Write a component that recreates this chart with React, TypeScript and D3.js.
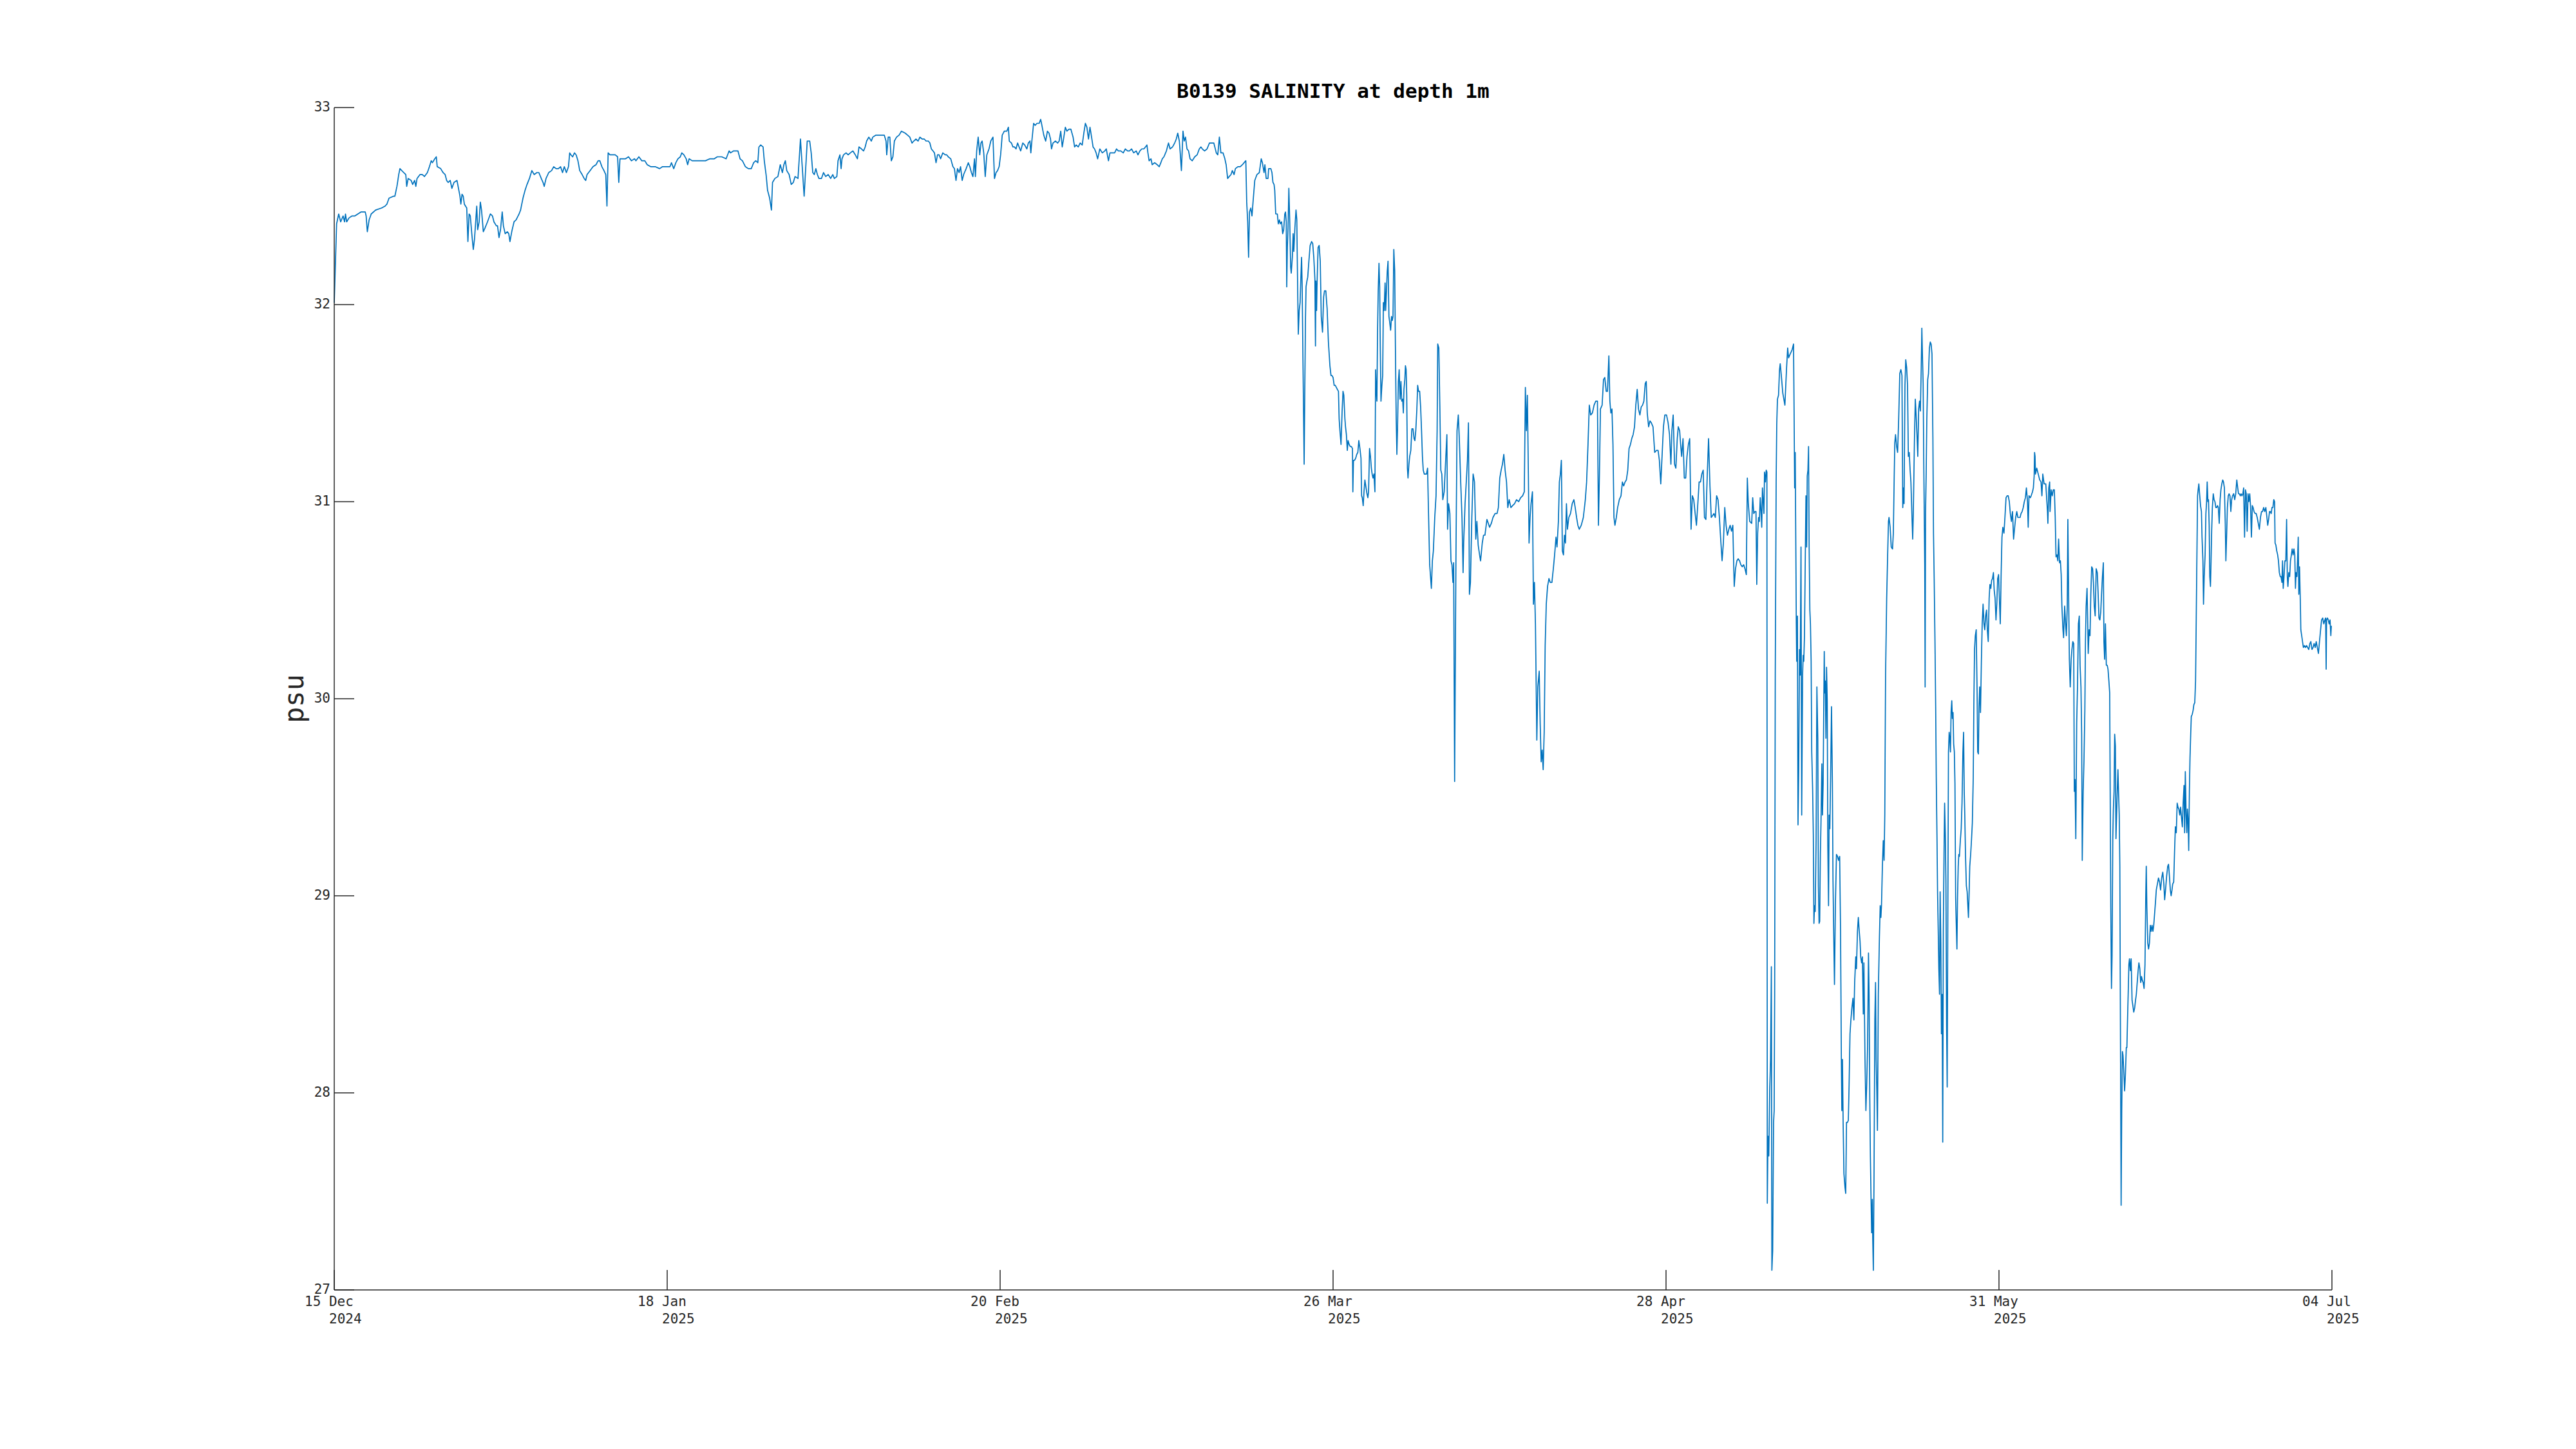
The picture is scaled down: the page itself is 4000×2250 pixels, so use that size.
import * as d3 from "d3";

// time axis runs from 15 Dec 2024 00:00 UTC to 04 Jul 2025 00:00 UTC
const START = Date.UTC(2024, 11, 15);
const END = Date.UTC(2025, 6, 4);
const DAY = 86400000;

// salinity readings: [days since 15 Dec 2024 00:00 UTC, psu]
const salDec = [
  [0.0, 32.01], [0.24, 32.41], [0.45, 32.46], [0.65, 32.42], [0.89, 32.45], [1.04, 32.42], [1.13, 32.46], [1.25, 32.42],
  [1.49, 32.44], [1.79, 32.45], [2.08, 32.45], [2.38, 32.46], [2.68, 32.47], [3.12, 32.47], [3.21, 32.45], [3.33, 32.37],
  [3.51, 32.43], [3.72, 32.46], [4.17, 32.48], [4.76, 32.49], [5.12, 32.5], [5.3, 32.51], [5.51, 32.54], [5.95, 32.55],
  [6.1, 32.55], [6.31, 32.6], [6.49, 32.66], [6.61, 32.69], [6.99, 32.67], [7.2, 32.66], [7.29, 32.6], [7.44, 32.64],
  [7.74, 32.63], [7.89, 32.61], [8.09, 32.63], [8.21, 32.6], [8.33, 32.64], [8.63, 32.66], [8.87, 32.66], [9.08, 32.65],
  [9.37, 32.67], [9.58, 32.7], [9.76, 32.73], [9.88, 32.72], [10.12, 32.74], [10.27, 32.75], [10.36, 32.7], [10.71, 32.69],
  [10.95, 32.67], [11.16, 32.66], [11.31, 32.63], [11.46, 32.62], [11.67, 32.63], [11.84, 32.59], [12.05, 32.62], [12.35, 32.63],
  [12.5, 32.59], [12.65, 32.55], [12.74, 32.51], [12.86, 32.56], [12.98, 32.55], [13.09, 32.51], [13.33, 32.49], [13.45, 32.32],
  [13.57, 32.46], [13.69, 32.45], [13.84, 32.36], [13.99, 32.28], [14.11, 32.33], [14.23, 32.42], [14.34, 32.5], [14.43, 32.38],
  [14.58, 32.42], [14.7, 32.52], [14.82, 32.48], [15.0, 32.37], [15.18, 32.39], [15.42, 32.42], [15.71, 32.46], [15.92, 32.45],
  [16.07, 32.42], [16.31, 32.4], [16.43, 32.4], [16.58, 32.34], [16.73, 32.38], [16.9, 32.47],
];

const salJan = [
  [17.02, 32.4], [17.2, 32.36], [17.41, 32.37], [17.56, 32.36], [17.68, 32.32], [17.86, 32.37], [18.09, 32.42], [18.3, 32.43],
  [18.6, 32.46], [18.75, 32.48], [18.99, 32.54], [19.2, 32.58], [19.4, 32.61], [19.64, 32.64], [19.88, 32.68], [20.12, 32.66],
  [20.39, 32.67], [20.59, 32.67], [20.83, 32.64], [21.01, 32.62], [21.13, 32.6], [21.31, 32.64], [21.58, 32.67], [21.87, 32.68],
  [22.08, 32.7], [22.32, 32.69], [22.56, 32.69], [22.77, 32.7], [22.97, 32.67], [23.15, 32.7], [23.36, 32.67], [23.57, 32.7],
  [23.69, 32.77], [23.81, 32.76], [23.99, 32.75], [24.17, 32.77], [24.34, 32.76], [24.52, 32.73], [24.7, 32.68], [24.94, 32.66],
  [25.15, 32.64], [25.3, 32.63], [25.44, 32.66], [25.74, 32.68], [26.04, 32.7], [26.34, 32.71], [26.55, 32.73], [26.72, 32.73],
  [26.93, 32.7], [27.14, 32.68], [27.32, 32.66], [27.44, 32.5], [27.56, 32.77], [27.74, 32.76], [27.97, 32.76], [28.27, 32.76],
  [28.51, 32.75], [28.63, 32.62], [28.75, 32.74], [29.02, 32.74], [29.31, 32.74], [29.61, 32.75], [29.91, 32.73], [30.21, 32.74],
  [30.36, 32.73], [30.65, 32.75], [30.95, 32.73], [31.25, 32.73], [31.49, 32.71], [31.84, 32.7], [32.29, 32.7], [32.74, 32.69],
  [33.03, 32.7], [33.48, 32.7], [33.78, 32.7], [33.93, 32.72], [34.16, 32.69], [34.37, 32.72], [34.58, 32.74], [34.82, 32.75],
  [34.97, 32.77], [35.18, 32.76], [35.41, 32.74], [35.56, 32.71], [35.71, 32.74], [36.01, 32.73], [36.46, 32.73], [36.9, 32.73],
  [37.35, 32.73], [37.8, 32.74], [38.24, 32.74], [38.54, 32.75], [38.99, 32.75], [39.43, 32.74], [39.58, 32.76], [39.73, 32.78],
  [39.88, 32.77], [40.18, 32.78], [40.62, 32.78], [40.83, 32.74], [41.07, 32.73], [41.37, 32.7], [41.66, 32.69], [41.96, 32.69],
  [42.2, 32.72], [42.41, 32.73], [42.62, 32.72], [42.73, 32.8], [42.91, 32.81], [43.15, 32.8], [43.27, 32.73], [43.45, 32.66],
  [43.6, 32.58], [43.81, 32.54], [43.99, 32.48], [44.1, 32.62], [44.34, 32.64], [44.64, 32.65], [44.88, 32.71], [45.09, 32.67],
  [45.24, 32.71], [45.39, 32.73], [45.53, 32.68], [45.77, 32.66], [45.98, 32.61], [46.19, 32.62], [46.37, 32.65], [46.66, 32.64],
  [46.91, 32.84], [47.28, 32.55], [47.59, 32.83], [47.84, 32.83],
];

const salFeb = [
  [47.99, 32.77], [48.15, 32.67], [48.3, 32.66], [48.46, 32.69], [48.61, 32.66], [48.77, 32.64], [49.02, 32.64], [49.23, 32.67],
  [49.45, 32.65], [49.7, 32.66], [49.95, 32.64], [50.16, 32.66], [50.32, 32.64], [50.57, 32.65], [50.69, 32.73], [50.88, 32.76],
  [51.0, 32.69], [51.09, 32.74], [51.25, 32.76], [51.5, 32.77], [51.71, 32.76], [51.93, 32.77], [52.18, 32.78], [52.43, 32.76],
  [52.64, 32.74], [52.8, 32.8], [53.05, 32.79], [53.26, 32.78], [53.42, 32.8], [53.57, 32.83], [53.79, 32.85], [54.04, 32.83],
  [54.19, 32.85], [54.5, 32.86], [54.81, 32.86], [55.12, 32.86], [55.34, 32.86], [55.52, 32.83], [55.59, 32.76], [55.74, 32.85],
  [55.9, 32.85], [56.05, 32.73], [56.21, 32.75], [56.36, 32.83], [56.58, 32.85], [56.83, 32.86], [57.07, 32.88], [57.45, 32.87],
  [57.69, 32.86], [57.91, 32.85], [58.13, 32.82], [58.31, 32.83], [58.53, 32.84], [58.75, 32.83], [58.93, 32.85], [59.15, 32.84],
  [59.37, 32.84], [59.55, 32.83], [59.77, 32.83], [59.93, 32.82], [60.08, 32.79], [60.24, 32.78], [60.39, 32.77], [60.55, 32.72],
  [60.7, 32.76], [60.86, 32.76], [61.01, 32.74], [61.23, 32.77], [61.47, 32.76], [61.63, 32.76], [61.78, 32.75], [62.03, 32.74],
  [62.25, 32.7], [62.4, 32.69], [62.56, 32.63], [62.71, 32.69], [62.87, 32.67], [63.02, 32.7], [63.18, 32.63], [63.33, 32.66],
  [63.58, 32.69], [63.8, 32.72], [63.95, 32.7], [64.11, 32.67], [64.26, 32.65], [64.42, 32.74], [64.51, 32.65], [64.64, 32.78],
  [64.79, 32.85], [64.95, 32.76], [65.07, 32.82], [65.19, 32.83], [65.35, 32.77], [65.5, 32.65], [65.66, 32.76], [65.88, 32.79],
  [66.06, 32.83], [66.28, 32.85], [66.43, 32.64], [66.59, 32.67], [66.74, 32.68], [66.9, 32.7], [67.05, 32.76], [67.21, 32.86],
  [67.42, 32.88], [67.67, 32.88], [67.83, 32.9], [67.92, 32.83], [68.14, 32.82], [68.29, 32.8], [68.45, 32.8], [68.6, 32.79],
  [68.76, 32.82], [68.91, 32.8], [69.07, 32.78], [69.28, 32.82], [69.47, 32.81], [69.69, 32.79], [69.84, 32.82], [70.0, 32.83],
  [70.09, 32.77], [70.21, 32.84], [70.37, 32.92], [70.52, 32.91], [70.71, 32.92], [70.93, 32.92], [71.08, 32.94], [71.24, 32.9],
  [71.39, 32.86], [71.58, 32.83], [71.76, 32.88], [71.92, 32.87], [72.07, 32.84], [72.17, 32.79], [72.32, 32.82], [72.57, 32.83],
  [72.79, 32.82], [72.94, 32.83], [73.1, 32.88], [73.25, 32.8], [73.41, 32.85], [73.56, 32.9], [73.72, 32.88], [73.93, 32.89],
  [74.12, 32.89], [74.34, 32.85], [74.49, 32.8], [74.65, 32.81], [74.86, 32.8], [75.05, 32.82], [75.26, 32.81], [75.42, 32.87],
  [75.58, 32.92], [75.73, 32.9], [75.89, 32.84],
];

const salMar = [
  [76.04, 32.9], [76.2, 32.85], [76.35, 32.8], [76.5, 32.79], [76.66, 32.77], [76.81, 32.74], [77.03, 32.79], [77.28, 32.77],
  [77.53, 32.78], [77.68, 32.79], [77.9, 32.73], [78.05, 32.77], [78.27, 32.77], [78.52, 32.77], [78.71, 32.79], [78.89, 32.78],
  [79.14, 32.78], [79.39, 32.77], [79.6, 32.79], [79.82, 32.78], [80.01, 32.78], [80.22, 32.79], [80.44, 32.77], [80.69, 32.78],
  [80.87, 32.76], [81.06, 32.78], [81.25, 32.79], [81.46, 32.79], [81.62, 32.8], [81.77, 32.81], [81.87, 32.77], [81.99, 32.73],
  [82.18, 32.74], [82.3, 32.71], [82.55, 32.72], [82.8, 32.71], [83.01, 32.7], [83.17, 32.72], [83.32, 32.74], [83.48, 32.75],
  [83.73, 32.78], [83.94, 32.82], [84.1, 32.79], [84.35, 32.8], [84.56, 32.82], [84.72, 32.84], [84.87, 32.87], [85.03, 32.83],
  [85.12, 32.77], [85.24, 32.68], [85.4, 32.88], [85.52, 32.83], [85.65, 32.85], [85.8, 32.79], [85.96, 32.78], [86.11, 32.74],
  [86.33, 32.73], [86.58, 32.75], [86.82, 32.76], [87.04, 32.79], [87.2, 32.8], [87.35, 32.79], [87.57, 32.78], [87.82, 32.79],
  [88.06, 32.82], [88.28, 32.82], [88.5, 32.82], [88.75, 32.77], [88.9, 32.76], [89.06, 32.85], [89.21, 32.77], [89.43, 32.77],
  [89.61, 32.74], [89.74, 32.71], [89.89, 32.64], [90.05, 32.65], [90.23, 32.66], [90.36, 32.68], [90.54, 32.66], [90.67, 32.69],
  [90.92, 32.7], [91.16, 32.7], [91.38, 32.71], [91.54, 32.72], [91.72, 32.73], [91.81, 32.52], [91.91, 32.42], [92.0, 32.24],
  [92.09, 32.47], [92.22, 32.49], [92.34, 32.45], [92.46, 32.53], [92.62, 32.63], [92.84, 32.66], [93.08, 32.67], [93.27, 32.74],
  [93.39, 32.72], [93.55, 32.67], [93.64, 32.71], [93.77, 32.64], [93.95, 32.64], [94.02, 32.69], [94.24, 32.69], [94.35, 32.67],
  [94.45, 32.62], [94.56, 32.61], [94.63, 32.58], [94.73, 32.46], [94.89, 32.46], [94.99, 32.41], [95.1, 32.43], [95.19, 32.41],
  [95.32, 32.42], [95.43, 32.36], [95.53, 32.38], [95.64, 32.46], [95.71, 32.47], [95.79, 32.42], [95.84, 32.09], [95.9, 32.29],
  [95.97, 32.39], [96.05, 32.59], [96.14, 32.42], [96.23, 32.19], [96.29, 32.16], [96.4, 32.24], [96.48, 32.36], [96.55, 32.27],
  [96.66, 32.39], [96.77, 32.48], [96.85, 32.43], [96.94, 32.07], [97.0, 31.85], [97.09, 31.97], [97.18, 32.01], [97.26, 32.14],
  [97.33, 32.24], [97.39, 32.09], [97.48, 31.67], [97.59, 31.19], [97.65, 31.54], [97.72, 31.92], [97.78, 32.09], [97.87, 32.12],
  [97.95, 32.14], [98.08, 32.23], [98.19, 32.3], [98.34, 32.32], [98.45, 32.31], [98.56, 32.24], [98.67, 32.13], [98.73, 31.79],
  [98.77, 32.12], [98.84, 31.97], [98.88, 32.09], [98.99, 32.29], [99.1, 32.3], [99.21, 32.22], [99.31, 31.94], [99.44, 31.86],
  [99.55, 32.04], [99.64, 32.07], [99.77, 32.07], [99.9, 31.98], [100.03, 31.81], [100.18, 31.69], [100.29, 31.64], [100.39, 31.64],
  [100.5, 31.63], [100.61, 31.59], [100.72, 31.59], [100.93, 31.57], [101.04, 31.56], [101.11, 31.42], [101.19, 31.36], [101.3, 31.29],
  [101.41, 31.46], [101.5, 31.56], [101.58, 31.54], [101.69, 31.42], [101.75, 31.38], [101.84, 31.34], [101.93, 31.26], [102.01, 31.31],
  [102.12, 31.29], [102.23, 31.28], [102.34, 31.28], [102.45, 31.27], [102.49, 31.05], [102.55, 31.21], [102.66, 31.21], [102.77, 31.22],
  [102.88, 31.24], [102.99, 31.25], [103.09, 31.31], [103.2, 31.27], [103.31, 31.22], [103.37, 31.03], [103.44, 31.02], [103.53, 30.98],
  [103.61, 31.05], [103.7, 31.11], [103.79, 31.08], [103.91, 31.04], [104.0, 31.02], [104.07, 31.05], [104.17, 31.27], [104.26, 31.23],
  [104.35, 31.17], [104.43, 31.14], [104.52, 31.12], [104.61, 31.14], [104.71, 31.05], [104.78, 31.67], [104.84, 31.57], [104.91, 31.51],
  [104.97, 31.84], [105.04, 32.07], [105.12, 32.21], [105.19, 32.09], [105.25, 31.78], [105.32, 31.51], [105.41, 31.59], [105.49, 31.64],
  [105.56, 32.01], [105.64, 31.97], [105.73, 32.11], [105.79, 31.97], [105.88, 32.08], [105.95, 32.17], [106.03, 32.22], [106.12, 31.94],
  [106.2, 31.91], [106.29, 31.87], [106.38, 31.94], [106.46, 31.92], [106.53, 31.94], [106.61, 32.28], [106.7, 32.17], [106.77, 31.79],
  [106.85, 31.42], [106.92, 31.24], [106.98, 31.36],
];

const salApr = [
  [107.07, 31.61], [107.15, 31.67], [107.24, 31.52], [107.33, 31.61], [107.41, 31.51], [107.5, 31.52], [107.57, 31.45], [107.63, 31.57],
  [107.72, 31.62], [107.78, 31.69], [107.85, 31.67], [107.91, 31.54], [107.98, 31.17], [108.04, 31.12], [108.13, 31.19], [108.21, 31.23],
  [108.32, 31.26], [108.43, 31.37], [108.54, 31.37], [108.65, 31.32], [108.73, 31.31], [108.82, 31.36], [108.93, 31.47], [109.01, 31.59],
  [109.1, 31.56], [109.21, 31.56], [109.31, 31.48], [109.4, 31.36], [109.49, 31.23], [109.57, 31.16], [109.68, 31.14], [109.79, 31.14],
  [109.9, 31.14], [110.01, 31.17], [110.09, 30.97], [110.22, 30.68], [110.39, 30.56], [110.49, 30.7], [110.59, 30.75], [110.73, 30.92],
  [110.86, 31.03], [110.97, 31.36], [111.03, 31.8], [111.14, 31.78], [111.24, 31.49], [111.34, 31.16], [111.44, 31.14], [111.54, 31.01],
  [111.68, 31.05], [111.81, 31.19], [111.95, 31.34], [112.02, 30.86], [112.12, 30.99], [112.25, 30.94], [112.36, 30.7], [112.46, 30.68],
  [112.56, 30.59], [112.63, 30.69], [112.73, 29.58], [112.86, 30.7], [112.97, 31.36], [113.1, 31.44], [113.2, 31.32], [113.34, 31.1],
  [113.47, 30.92], [113.58, 30.64], [113.64, 30.79], [113.78, 30.99], [113.88, 31.08], [114.02, 31.21], [114.12, 31.4], [114.22, 30.53],
  [114.32, 30.59], [114.46, 30.92], [114.59, 31.14], [114.73, 31.1], [114.86, 30.81], [114.97, 30.9], [115.1, 30.78], [115.24, 30.73],
  [115.34, 30.7], [115.51, 30.79], [115.64, 30.83], [115.78, 30.83], [115.98, 30.91], [116.12, 30.89], [116.25, 30.87], [116.42, 30.89],
  [116.59, 30.92], [116.8, 30.94], [117.0, 30.94], [117.13, 30.97], [117.27, 31.12], [117.41, 31.16], [117.54, 31.19], [117.68, 31.24],
  [117.81, 31.16], [117.95, 31.1], [118.08, 30.97], [118.22, 31.01], [118.39, 30.97], [118.56, 30.98], [118.76, 30.99], [118.96, 31.01],
  [119.17, 31.0], [119.37, 31.02], [119.57, 31.03], [119.74, 31.05], [119.85, 31.58], [119.95, 31.36], [120.05, 31.54], [120.15, 31.14],
  [120.22, 30.79], [120.32, 30.92], [120.42, 30.99], [120.56, 31.05], [120.66, 30.48], [120.76, 30.59], [120.86, 30.38], [121.0, 29.79],
  [121.1, 30.06], [121.24, 30.14], [121.34, 29.87], [121.44, 29.68], [121.54, 29.74], [121.64, 29.64], [121.74, 29.83], [121.84, 30.27],
  [121.95, 30.48], [122.08, 30.57], [122.22, 30.61], [122.35, 30.59], [122.52, 30.59], [122.66, 30.66], [122.79, 30.73], [122.93, 30.82],
  [123.03, 30.77], [123.17, 30.9], [123.27, 31.1], [123.37, 31.14], [123.47, 31.21], [123.57, 30.75], [123.68, 30.73], [123.78, 30.83],
  [123.88, 30.79], [123.98, 30.99], [124.08, 30.86], [124.22, 30.92], [124.39, 30.94], [124.56, 30.99], [124.73, 31.01], [124.86, 30.97],
  [125.0, 30.92], [125.13, 30.88], [125.27, 30.86], [125.47, 30.88], [125.68, 30.92], [125.88, 31.01], [126.01, 31.1], [126.15, 31.29],
  [126.28, 31.49], [126.42, 31.44], [126.59, 31.45], [126.76, 31.49], [126.93, 31.51], [127.1, 31.51], [127.2, 30.88], [127.3, 31.14],
  [127.4, 31.47], [127.57, 31.49], [127.71, 31.62], [127.84, 31.63], [127.98, 31.56], [128.11, 31.56], [128.25, 31.74], [128.35, 31.51],
  [128.45, 31.45], [128.56, 31.47], [128.66, 31.29], [128.76, 30.92], [128.86, 30.88], [129.0, 30.92], [129.13, 30.97], [129.3, 31.01],
  [129.47, 31.03], [129.61, 31.1], [129.74, 31.08], [129.88, 31.1], [130.01, 31.11], [130.15, 31.16], [130.28, 31.27], [130.42, 31.29],
  [130.55, 31.32], [130.69, 31.34], [130.83, 31.38], [130.96, 31.49], [131.1, 31.57], [131.23, 31.47], [131.37, 31.44], [131.5, 31.48],
  [131.64, 31.49], [131.77, 31.51], [131.91, 31.6], [132.01, 31.61], [132.11, 31.45], [132.25, 31.38], [132.38, 31.41], [132.52, 31.4],
  [132.69, 31.38], [132.86, 31.25], [133.03, 31.26], [133.2, 31.26], [133.33, 31.21], [133.47, 31.09], [133.6, 31.23], [133.74, 31.38],
  [133.88, 31.44], [134.05, 31.44], [134.21, 31.4], [134.35, 31.34], [134.49, 31.19], [134.59, 31.36], [134.72, 31.44], [134.86, 31.19],
  [134.99, 31.17], [135.13, 31.32], [135.23, 31.38], [135.37, 31.36], [135.47, 31.29], [135.57, 31.23], [135.71, 31.32], [135.84, 31.12],
  [135.98, 31.12], [136.11, 31.23], [136.25, 31.29], [136.38, 31.32], [136.52, 30.86], [136.65, 31.03], [136.79, 31.01], [136.93, 30.94],
];

const salMay = [
  [137.06, 30.88], [137.2, 30.99], [137.33, 31.1], [137.47, 31.1], [137.6, 31.14], [137.74, 31.16], [137.87, 30.92], [138.01, 30.91],
  [138.15, 31.14], [138.28, 31.32], [138.42, 31.08], [138.55, 30.92], [138.69, 30.93], [138.82, 30.94], [138.96, 30.92], [139.09, 31.03],
  [139.23, 31.01], [139.37, 30.92], [139.5, 30.81], [139.64, 30.7], [139.77, 30.79], [139.91, 30.97], [140.04, 30.88], [140.18, 30.83],
  [140.32, 30.86], [140.45, 30.88], [140.59, 30.85], [140.72, 30.88], [140.86, 30.57], [140.99, 30.66], [141.13, 30.7], [141.26, 30.71],
  [141.4, 30.7], [141.53, 30.68], [141.67, 30.67], [141.81, 30.68], [141.94, 30.66], [142.08, 30.63], [142.18, 31.12], [142.28, 30.99],
  [142.42, 30.9], [142.62, 30.89], [142.72, 31.02], [142.83, 30.94], [142.94, 30.95], [143.05, 30.95], [143.13, 30.58], [143.22, 30.84],
  [143.31, 30.92], [143.39, 30.9], [143.48, 31.02], [143.54, 30.97], [143.63, 30.87], [143.7, 31.07], [143.78, 31.0], [143.85, 30.94],
  [143.91, 31.15], [144.0, 31.1], [144.08, 31.16], [144.15, 31.15], [144.19, 27.44], [144.26, 27.78], [144.34, 27.68], [144.43, 28.01],
  [144.52, 28.17], [144.6, 28.64], [144.65, 27.1], [144.73, 27.2], [144.82, 27.85], [144.88, 27.91], [144.93, 28.5], [144.99, 30.12],
  [145.08, 31.1], [145.14, 31.39], [145.21, 31.52], [145.32, 31.54], [145.42, 31.67], [145.49, 31.7], [145.6, 31.64], [145.75, 31.55],
  [145.96, 31.49], [146.12, 31.67], [146.24, 31.78], [146.33, 31.73], [146.5, 31.75], [146.68, 31.77], [146.83, 31.8], [146.89, 31.42],
  [146.94, 31.07], [147.0, 31.25], [147.04, 30.92], [147.11, 30.38], [147.15, 30.19], [147.22, 30.42], [147.28, 29.36], [147.35, 29.64],
  [147.43, 30.25], [147.5, 30.12], [147.58, 30.77], [147.65, 29.41], [147.74, 30.12], [147.8, 30.22], [147.86, 30.19], [147.93, 30.32],
  [147.99, 30.61], [148.08, 31.03], [148.15, 30.77], [148.21, 31.13], [148.28, 31.16], [148.34, 31.28], [148.4, 30.77], [148.47, 30.45],
  [148.53, 30.38], [148.6, 30.19], [148.66, 29.73], [148.75, 29.54], [148.82, 29.31], [148.88, 28.86], [148.94, 28.95], [149.01, 28.92],
  [149.1, 29.28], [149.18, 30.06], [149.27, 29.8], [149.33, 29.05], [149.4, 28.86], [149.46, 28.87], [149.53, 29.21], [149.59, 29.37],
  [149.68, 29.67], [149.74, 29.41], [149.81, 29.57], [149.87, 29.96], [149.92, 30.24], [149.96, 30.03], [150.02, 30.09], [150.09, 29.8],
  [150.15, 30.16], [150.22, 29.99], [150.28, 29.25], [150.35, 28.95], [150.41, 29.41], [150.48, 29.34], [150.56, 29.6], [150.65, 29.96],
  [150.74, 29.57], [150.8, 29.08], [150.87, 28.82], [150.95, 28.55], [151.04, 28.95], [151.15, 29.21], [151.26, 29.2], [151.36, 29.18],
  [151.47, 29.2], [151.56, 28.82], [151.64, 28.17], [151.69, 27.91], [151.75, 28.17], [151.82, 27.85], [151.9, 27.59], [152.01, 27.52],
  [152.08, 27.49], [152.16, 27.85], [152.25, 27.85], [152.34, 27.86], [152.42, 28.04], [152.51, 28.3], [152.6, 28.37], [152.7, 28.43],
  [152.81, 28.48], [152.9, 28.37], [152.98, 28.56], [153.09, 28.69], [153.16, 28.63], [153.26, 28.82], [153.35, 28.89], [153.44, 28.82],
  [153.52, 28.77], [153.59, 28.69], [153.68, 28.66], [153.76, 28.69], [153.85, 28.4], [153.91, 28.66], [154.02, 28.17], [154.11, 27.91],
  [154.19, 28.04], [154.28, 28.24], [154.37, 28.71], [154.43, 28.5], [154.5, 27.98], [154.56, 27.68], [154.63, 27.46], [154.69, 27.29],
  [154.76, 27.46], [154.8, 27.26], [154.86, 27.1], [154.93, 27.59], [155.01, 28.37], [155.08, 28.56], [155.14, 28.17], [155.21, 28.01],
  [155.27, 27.81], [155.36, 28.5], [155.47, 28.79], [155.55, 28.95], [155.62, 28.89], [155.68, 28.95], [155.77, 29.15], [155.86, 29.28],
  [155.94, 29.18], [156.01, 29.41], [156.09, 30.12], [156.2, 30.51], [156.29, 30.71], [156.38, 30.9], [156.44, 30.92], [156.55, 30.87],
  [156.66, 30.77], [156.79, 30.76], [156.87, 30.84], [156.96, 31.13], [157.02, 31.3], [157.09, 31.34], [157.2, 31.28], [157.3, 31.25],
  [157.41, 31.42], [157.52, 31.65], [157.63, 31.67], [157.74, 31.64], [157.82, 30.97], [157.89, 31.07], [157.95, 30.99], [158.04, 31.59],
  [158.12, 31.72], [158.21, 31.68], [158.3, 31.59], [158.38, 31.23], [158.47, 31.25], [158.56, 31.16], [158.64, 31.1], [158.73, 30.95],
  [158.82, 30.81], [158.88, 30.94], [158.99, 31.3], [159.08, 31.52], [159.16, 31.44], [159.25, 31.34], [159.33, 31.23], [159.42, 31.47],
  [159.51, 31.51], [159.59, 31.46], [159.68, 31.68], [159.74, 31.88], [159.81, 31.72], [159.87, 31.6], [159.94, 31.16], [160.03, 30.68],
  [160.07, 30.06], [160.11, 30.94], [160.18, 31.16], [160.24, 31.42], [160.33, 31.62], [160.41, 31.65], [160.5, 31.78], [160.59, 31.81],
  [160.67, 31.8], [160.76, 31.75], [160.85, 31.33], [160.91, 30.84], [160.98, 30.61], [161.06, 30.29], [161.13, 29.96], [161.19, 29.6],
  [161.26, 29.31], [161.32, 29.02], [161.39, 28.82], [161.45, 28.63], [161.52, 28.5], [161.58, 29.02], [161.65, 28.76], [161.71, 28.3],
  [161.78, 28.5], [161.84, 27.75], [161.9, 28.82], [161.97, 29.21], [162.03, 29.47], [162.1, 29.31], [162.16, 29.08], [162.23, 28.34],
  [162.29, 28.03], [162.36, 28.99], [162.42, 29.73], [162.49, 29.83], [162.55, 29.8], [162.62, 29.73], [162.68, 29.93], [162.75, 29.99],
  [162.81, 29.9], [162.88, 29.93], [162.94, 29.77], [163.01, 29.73], [163.07, 29.57], [163.14, 28.99], [163.2, 28.86], [163.27, 28.73],
  [163.33, 28.99], [163.4, 29.15], [163.46, 29.21], [163.52, 29.2], [163.61, 29.28], [163.7, 29.34], [163.78, 29.47], [163.87, 29.73],
  [163.94, 29.83], [164.0, 29.54], [164.06, 29.41], [164.13, 29.21], [164.22, 29.05], [164.3, 29.02], [164.37, 28.95], [164.43, 28.89],
  [164.5, 29.02], [164.56, 29.15], [164.65, 29.21], [164.73, 29.28], [164.82, 29.37], [164.91, 29.6], [164.97, 29.96], [165.04, 30.25],
  [165.12, 30.32], [165.21, 30.35], [165.3, 30.03], [165.36, 29.73], [165.43, 29.72], [165.49, 29.96], [165.56, 30.06], [165.64, 29.93],
  [165.73, 30.19], [165.81, 30.38], [165.9, 30.48], [165.99, 30.38], [166.07, 30.35], [166.16, 30.42], [166.25, 30.45], [166.33, 30.35],
  [166.42, 30.29], [166.51, 30.51], [166.59, 30.58], [166.68, 30.56], [166.76, 30.6], [166.85, 30.61], [166.94, 30.64], [167.02, 30.55],
  [167.11, 30.51], [167.2, 30.4], [167.28, 30.48], [167.37, 30.61], [167.46, 30.63], [167.54, 30.51], [167.63, 30.38], [167.72, 30.64],
  [167.8, 30.82], [167.89, 30.87],
];

const salJun = [
  [168.0, 30.84], [168.1, 30.92], [168.21, 31.02], [168.32, 31.03], [168.43, 31.03], [168.54, 31.0], [168.64, 30.94], [168.75, 30.9],
  [168.86, 30.95], [168.97, 30.81], [169.08, 30.87], [169.18, 30.92], [169.29, 30.95], [169.4, 30.92], [169.51, 30.92], [169.62, 30.92],
  [169.72, 30.94], [169.83, 30.95], [169.94, 30.97], [170.05, 31.0], [170.16, 31.02], [170.26, 31.07], [170.37, 31.0], [170.44, 30.87],
  [170.52, 31.03], [170.65, 31.02], [170.74, 31.03], [170.87, 31.05], [170.96, 31.07], [171.04, 31.13], [171.08, 31.25], [171.13, 31.23],
  [171.17, 31.14], [171.3, 31.17], [171.45, 31.14], [171.6, 31.11], [171.73, 31.1], [171.82, 31.03], [171.91, 31.14], [172.04, 31.09],
  [172.21, 31.09], [172.32, 31.0], [172.38, 30.95], [172.42, 30.89], [172.51, 31.07], [172.6, 31.1], [172.64, 30.95], [172.75, 31.06],
  [172.86, 31.03], [172.96, 31.06], [173.07, 31.06], [173.16, 30.92], [173.24, 30.72], [173.33, 30.73], [173.42, 30.7], [173.5, 30.81],
  [173.59, 30.69], [173.68, 30.7], [173.76, 30.63], [173.83, 30.47], [173.94, 30.35], [174.0, 30.31], [174.11, 30.47], [174.2, 30.38],
  [174.28, 30.32], [174.37, 30.47], [174.43, 30.91], [174.52, 30.47], [174.58, 30.2], [174.67, 30.06], [174.76, 30.2], [174.84, 30.25],
  [174.93, 30.29], [175.02, 30.28], [175.08, 29.53], [175.15, 29.59], [175.23, 29.29], [175.32, 29.88], [175.4, 30.06], [175.49, 30.38],
  [175.58, 30.42], [175.66, 30.17], [175.75, 30.06], [175.82, 29.82], [175.88, 29.18], [175.97, 29.53], [176.05, 29.68], [176.14, 29.94],
  [176.2, 30.29], [176.27, 30.47], [176.36, 30.56], [176.42, 30.41], [176.48, 30.23], [176.57, 30.35], [176.66, 30.32], [176.74, 30.53],
  [176.83, 30.67], [176.92, 30.66], [177.0, 30.59], [177.09, 30.47], [177.18, 30.42], [177.28, 30.66], [177.39, 30.64], [177.48, 30.53],
  [177.56, 30.41], [177.65, 30.4], [177.74, 30.44], [177.82, 30.53], [177.91, 30.62], [178.0, 30.69], [178.06, 30.29], [178.13, 30.2],
  [178.21, 30.38], [178.3, 30.17], [178.39, 30.17], [178.47, 30.15], [178.56, 30.09], [178.64, 30.03], [178.69, 29.53], [178.75, 28.94],
  [178.82, 28.53], [178.88, 28.7], [178.95, 29.29], [179.01, 29.44], [179.08, 29.53], [179.14, 29.82], [179.21, 29.76], [179.27, 29.29],
  [179.34, 29.42], [179.4, 29.53], [179.47, 29.64], [179.53, 29.53], [179.6, 29.41], [179.66, 29.15], [179.72, 28.35], [179.79, 27.43],
  [179.85, 27.91], [179.92, 28.21], [179.98, 28.19], [180.05, 28.12], [180.14, 28.01], [180.22, 28.09], [180.31, 28.23], [180.37, 28.23],
  [180.44, 28.38], [180.5, 28.5], [180.57, 28.65], [180.63, 28.68], [180.72, 28.62], [180.8, 28.68], [180.89, 28.47], [180.98, 28.44],
  [181.06, 28.41], [181.15, 28.43], [181.24, 28.47], [181.32, 28.5], [181.41, 28.56], [181.5, 28.62], [181.58, 28.66], [181.67, 28.63],
  [181.76, 28.56], [181.84, 28.59], [181.93, 28.57], [182.01, 28.56], [182.1, 28.53], [182.19, 28.65], [182.27, 29.0], [182.32, 29.15],
  [182.38, 28.94], [182.47, 28.76], [182.55, 28.73], [182.64, 28.76], [182.73, 28.85], [182.81, 28.82], [182.9, 28.85], [182.99, 28.82],
  [183.07, 28.85], [183.16, 28.91], [183.25, 28.97], [183.33, 29.03], [183.44, 29.06], [183.55, 29.09], [183.66, 29.07], [183.76, 29.03],
  [183.87, 29.09], [183.98, 29.12], [184.09, 29.06], [184.17, 28.98], [184.26, 29.03], [184.37, 29.1], [184.48, 29.15], [184.56, 29.16],
  [184.65, 29.1], [184.74, 29.03], [184.82, 29.0], [184.91, 29.03], [184.98, 29.06], [185.08, 29.07], [185.17, 29.23], [185.25, 29.35],
  [185.34, 29.32], [185.43, 29.47], [185.51, 29.45], [185.6, 29.44], [185.69, 29.41], [185.77, 29.45], [185.86, 29.4], [185.95, 29.35],
  [186.03, 29.47], [186.12, 29.56], [186.18, 29.32], [186.25, 29.63], [186.33, 29.41], [186.4, 29.32], [186.46, 29.44], [186.53, 29.38],
  [186.59, 29.23], [186.66, 29.53], [186.72, 29.7], [186.79, 29.82], [186.85, 29.91], [186.94, 29.92], [187.03, 29.94], [187.11, 29.97],
  [187.2, 29.98], [187.28, 30.09], [187.35, 30.41], [187.41, 30.7], [187.48, 31.03], [187.54, 31.06], [187.61, 31.09], [187.7, 31.03],
  [187.78, 30.98], [187.87, 30.95], [187.93, 30.82], [188.02, 30.7], [188.08, 30.48], [188.15, 30.62], [188.24, 30.73], [188.32, 30.94],
  [188.39, 31.0], [188.45, 31.1], [188.52, 31.0], [188.58, 31.01], [188.65, 30.88], [188.71, 30.62], [188.78, 30.57], [188.84, 30.7],
  [188.9, 30.85], [188.97, 30.97], [189.06, 31.04], [189.14, 31.01], [189.23, 31.0], [189.32, 30.97], [189.4, 30.97], [189.49, 30.98],
  [189.57, 30.97], [189.66, 30.89], [189.75, 31.01], [189.83, 31.06], [189.92, 31.09], [190.01, 31.11], [190.09, 31.1], [190.18, 31.07],
  [190.27, 30.89], [190.33, 30.7], [190.4, 30.82], [190.48, 30.97], [190.57, 31.03], [190.65, 31.04], [190.74, 31.03], [190.83, 30.95],
  [190.91, 31.01], [191.0, 31.03], [191.11, 31.04], [191.22, 31.01], [191.32, 31.04], [191.43, 31.11], [191.52, 31.07], [191.6, 31.04],
  [191.69, 31.04], [191.78, 31.03], [191.86, 31.04], [191.95, 31.03], [192.04, 31.04], [192.12, 31.07], [192.21, 30.82], [192.3, 31.06],
  [192.38, 31.04], [192.47, 30.85], [192.56, 31.04], [192.64, 31.0], [192.73, 31.04], [192.81, 30.98], [192.9, 30.82], [192.99, 30.98],
  [193.07, 30.97], [193.16, 30.95], [193.27, 30.94], [193.38, 30.94], [193.48, 30.92], [193.59, 30.89], [193.7, 30.86], [193.81, 30.92],
  [193.92, 30.95], [194.02, 30.95], [194.13, 30.97], [194.24, 30.95], [194.35, 30.97], [194.46, 30.92], [194.54, 30.88], [194.63, 30.91],
  [194.72, 30.95], [194.8, 30.95], [194.89, 30.94], [194.97, 30.97], [195.06, 30.97], [195.15, 31.01], [195.23, 31.0], [195.28, 30.79],
  [195.36, 30.78], [195.45, 30.75], [195.54, 30.73], [195.62, 30.7], [195.71, 30.64], [195.8, 30.62], [195.88, 30.62], [195.97, 30.59],
  [196.03, 30.7], [196.1, 30.56], [196.18, 30.62], [196.27, 30.7], [196.36, 30.7], [196.44, 30.91], [196.51, 30.62], [196.57, 30.57],
  [196.66, 30.64], [196.75, 30.62], [196.83, 30.7], [196.92, 30.73], [197.0, 30.76], [197.09, 30.73], [197.18, 30.76], [197.26, 30.73],
  [197.33, 30.56], [197.39, 30.64], [197.48, 30.62], [197.54, 30.7], [197.61, 30.82], [197.67, 30.53], [197.74, 30.67], [197.83, 30.47],
  [197.87, 30.35], [197.96, 30.32],
];

const salJul = [
  [198.04, 30.29], [198.13, 30.26], [198.24, 30.27], [198.34, 30.26], [198.45, 30.27], [198.56, 30.26], [198.67, 30.25], [198.78, 30.28],
  [198.88, 30.29], [198.99, 30.25], [199.1, 30.26], [199.21, 30.28], [199.32, 30.26], [199.42, 30.29], [199.53, 30.26], [199.64, 30.23],
  [199.75, 30.29], [199.86, 30.35], [199.96, 30.4], [200.07, 30.41], [200.18, 30.38], [200.29, 30.4], [200.37, 30.41], [200.42, 30.15],
  [200.46, 30.4], [200.55, 30.41], [200.63, 30.4], [200.72, 30.38], [200.81, 30.4], [200.89, 30.32], [200.94, 30.37],
];

const yTicks = [27, 28, 29, 30, 31, 32, 33];

const xTickDates = [
  "2024-12-15T00:00:00Z",
  "2025-01-17T12:00:00Z",
  "2025-02-20T00:00:00Z",
  "2025-03-25T12:00:00Z",
  "2025-04-28T00:00:00Z",
  "2025-05-31T12:00:00Z",
  "2025-07-04T00:00:00Z",
];
const xTickDays = ["15 Dec", "18 Jan", "20 Feb", "26 Mar", "28 Apr", "31 May", "04 Jul"];
const xTickYears = ["2024", "2025", "2025", "2025", "2025", "2025", "2025"];

const monoFont = "'DejaVu Sans Mono', 'Liberation Mono', monospace";
const axisColor = "#262626";

export default function App() {
  const width = 4000;
  const height = 2250;
  const margin = { top: 167, right: 379, bottom: 247, left: 519 };
  const plotRight = width - margin.right;
  const plotBottom = height - margin.bottom;
  const tickLen = 31;

  const x = d3
    .scaleUtc()
    .domain([new Date(START), new Date(END)])
    .range([margin.left, plotRight]);

  const y = d3.scaleLinear().domain([27, 33]).range([plotBottom, margin.top]);

  const series = [...salDec, ...salJan, ...salFeb, ...salMar, ...salApr, ...salMay, ...salJun, ...salJul].map(
    ([d, v]) => ({ t: new Date(START + d * DAY), v }),
  );

  const line = d3
    .line<{ t: Date; v: number }>()
    .x((d) => x(d.t))
    .y((d) => y(d.v));

  return (
    <div style={{ position: "absolute", left: 0, top: 0 }}>
      <svg width={width} height={height} style={{ display: "block" }}>
        <rect x={0} y={0} width={width} height={height} fill="#ffffff" />

        <text
          x={(margin.left + plotRight) / 2}
          y={152}
          textAnchor="middle"
          fontFamily={monoFont}
          fontWeight="bold"
          fontSize={31}
          fill="#000000"
        >
          B0139 SALINITY at depth 1m
        </text>

        <path
          d={line(series) ?? ""}
          fill="none"
          stroke="#0072BD"
          strokeWidth={1.7}
          strokeLinejoin="round"
        />

        {/* y axis */}
        <line
          x1={margin.left}
          x2={margin.left}
          y1={margin.top}
          y2={plotBottom}
          stroke={axisColor}
          strokeWidth={1.5}
        />
        {yTicks.map((t) => (
          <g key={`y-${t}`}>
            <line
              x1={margin.left}
              x2={margin.left + tickLen}
              y1={y(t)}
              y2={y(t)}
              stroke={axisColor}
              strokeWidth={1.5}
            />
            <text
              x={margin.left - 6}
              y={y(t)}
              textAnchor="end"
              dominantBaseline="middle"
              fontFamily={monoFont}
              fontSize={21}
              fill={axisColor}
            >
              {t}
            </text>
          </g>
        ))}

        {/* x axis */}
        <line
          x1={margin.left}
          x2={plotRight}
          y1={plotBottom}
          y2={plotBottom}
          stroke={axisColor}
          strokeWidth={1.5}
        />
        {xTickDates.map((s, i) => {
          const px = x(new Date(s));
          return (
            <g key={`x-${s}`}>
              <line
                x1={px}
                x2={px}
                y1={plotBottom}
                y2={plotBottom - tickLen}
                stroke={axisColor}
                strokeWidth={1.5}
              />
              <text x={px - 46} y={2028} fontFamily={monoFont} fontSize={21} fill={axisColor}>
                {xTickDays[i]}
              </text>
              <text x={px - 8} y={2055} fontFamily={monoFont} fontSize={21} fill={axisColor}>
                {xTickYears[i]}
              </text>
            </g>
          );
        })}

        <text
          transform={`translate(471, ${(margin.top + plotBottom) / 2}) rotate(-90)`}
          textAnchor="middle"
          fontFamily={monoFont}
          fontSize={42}
          fill={axisColor}
        >
          psu
        </text>
      </svg>
    </div>
  );
}
